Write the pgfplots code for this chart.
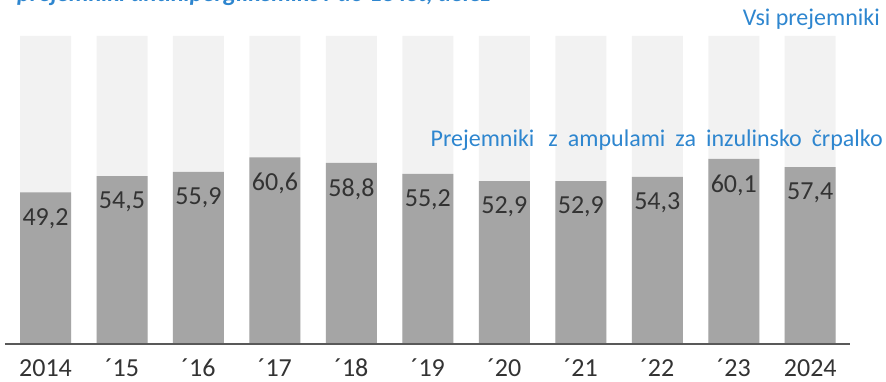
\documentclass[border=0pt]{standalone}
\usepackage{pgfplots}
\pgfplotsset{compat=1.18}
\usepackage{fontspec}
\setmainfont{Carlito}
\definecolor{lightbar}{HTML}{F2F2F2}
\definecolor{darkbar}{HTML}{A5A5A5}
\definecolor{axisgrey}{HTML}{595959}
\definecolor{ticktext}{HTML}{333333}
\definecolor{accent}{HTML}{2E86CF}

\pgfplotstableread{
x share
0  49.2
1  54.5
2  55.9
3  60.6
4  58.8
5  55.2
6  52.9
7  52.9
8  54.3
9  60.1
10 57.4
}\sharetable

\begin{document}
\begin{tikzpicture}[x=1pt,y=1pt]
\useasboundingbox (0,0) rectangle (886,382);
\clip (0,0) rectangle (886,382);
\begin{axis}[
  at={(5pt,38pt)}, anchor=south west,
  scale only axis, width=845pt, height=308pt,
  xmin=-0.53, xmax=10.52, ymin=0, ymax=100,
  axis lines=none,
  clip=false,
  ybar, bar width=51pt, bar shift=0pt,
  xtick=\empty, ytick=\empty,
  /pgf/number format/assume math mode=true,
]
  % full-height background bars (all recipients = 100)
  \addplot[draw=none, fill=lightbar] coordinates {
    (0,100) (1,100) (2,100) (3,100) (4,100) (5,100)
    (6,100) (7,100) (8,100) (9,100) (10,100)};
  % share with insulin pump ampoules
  \addplot[draw=none, fill=darkbar,
    nodes near coords={\pgfmathprintnumber[fixed,fixed zerofill,precision=1,use comma,assume math mode=true]{\pgfplotspointmeta}},
    every node near coord/.append style={anchor=center, yshift=-26pt,
      font=\fontsize{26}{30}\selectfont, text=ticktext, inner sep=0pt},
  ] table[x=x,y=share] {\sharetable};
  % baseline
  \draw[axisgrey, line width=2pt] (axis cs:-0.53,0) -- (axis cs:10.52,0);
  % year labels
  \foreach \i/\lab in {0/2014,1/´15,2/´16,3/´17,4/´18,5/´19,6/´20,7/´21,8/´22,9/´23,10/2024}{
    \edef\tmp{\noexpand\node[anchor=center, text=ticktext, inner sep=0pt,
      font=\noexpand\fontsize{26}{30}\noexpand\selectfont]
      at (axis cs:\i,0) [yshift=-24pt] {\lab};}\tmp
  }
\end{axis}
\node[anchor=base west, text=accent, inner sep=0pt,
  font=\fontsize{24.5}{29}\selectfont\bfseries\itshape] at (17,380)
  {prejemniki antihiperglikemikov do 18 let, delež};
\node[anchor=base east, text=accent, inner sep=0pt,
  font=\fontsize{24}{29}\selectfont] at (880,356) {Vsi prejemniki};
\node[anchor=base east, text=accent, inner sep=0pt,
  font=\fontsize{24}{29}\selectfont] at (883,235)
  {\spaceskip=10pt Prejemniki\hspace{14pt}z ampulami za inzulinsko črpalko};
\end{tikzpicture}
\end{document}
